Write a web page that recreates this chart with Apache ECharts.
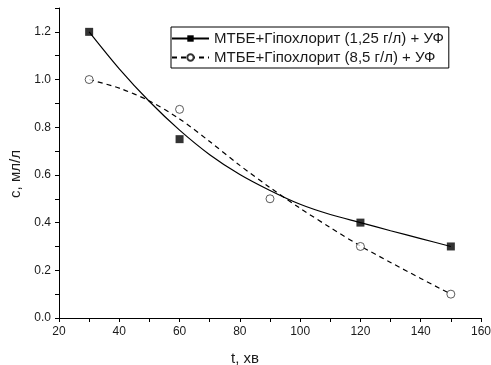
<!DOCTYPE html>
<html>
<head>
<meta charset="utf-8">
<script src="https://cdn.jsdelivr.net/npm/echarts@6/dist/echarts.min.js"></script>
<style>
  html, body { margin: 0; padding: 0; background: #fff; }
  #chart { width: 491px; height: 365px; }
</style>
</head>
<body>
<div id="chart"></div>
<script>
// measured points (the 1,25 g/l square at 90 min is hidden under the circle in the picture)
const times125 = [30, 60, 120, 150]
const conc125 = [1.2, 0.75, 0.4, 0.3]
const times85 = [30, 60, 90, 120, 150]
const conc85 = [1.0, 0.875, 0.5, 0.3, 0.1]

// fitted curves as drawn in the picture
const fitTimes = [30, 40, 50, 60, 70, 80, 90, 100, 110, 120, 130, 140, 150]
const fit125 = [1.2, 1.045, 0.908, 0.788, 0.685, 0.602, 0.535, 0.477, 0.434, 0.4, 0.366, 0.333, 0.3]
const fit85 = [1.0, 0.964, 0.91, 0.835, 0.74, 0.64, 0.547, 0.46, 0.379, 0.302, 0.233, 0.166, 0.1]

const xTickLabels = [20, 40, 60, 80, 100, 120, 140, 160]
const yTickLabels = ["0.0", "0.2", "0.4", "0.6", "0.8", "1.0", "1.2"]

const name125 = "МТБЕ+Гіпохлорит (1,25 г/л) + УФ"
const name85 = "МТБЕ+Гіпохлорит (8,5 г/л) + УФ"

const zip = (xs, ys) => xs.map((x, i) => [x, ys[i]])

const font = "Liberation Sans, Arial, sans-serif"
const ink = "#1a1a1a"

const chart = echarts.init(document.getElementById("chart"))

chart.setOption({
  animation: false,
  textStyle: { fontFamily: font, color: ink },
  grid: { left: 59, right: 10, top: 8, bottom: 47, outerBoundsMode: "none" },
  legend: {
    orient: "vertical",
    left: 171,
    top: 27,
    padding: [4, 5, 3, 0],
    itemWidth: 37,
    itemHeight: 8,
    itemGap: 4,
    borderColor: "#000",
    borderWidth: 1,
    borderRadius: 0,
    textStyle: { fontFamily: font, fontSize: 15, color: ink },
    data: [name125, name85],
  },
  xAxis: {
    type: "value",
    min: 20,
    max: 160,
    interval: 10,
    name: "t, хв",
    nameLocation: "middle",
    nameGap: 33,
    nameTextStyle: { fontSize: 15, color: ink, padding: [0, 50, 0, 0] },
    axisLine: { lineStyle: { color: "#000", width: 1 } },
    axisTick: { inside: false, length: 4, lineStyle: { color: "#000" } },
    axisLabel: {
      fontSize: 12,
      color: ink,
      margin: 8,
      formatter: (v) => (xTickLabels.includes(v) ? String(v) : ""),
    },
    splitLine: { show: false },
  },
  yAxis: {
    type: "value",
    min: 0,
    max: 1.3,
    interval: 0.1,
    name: "c, мл/л",
    nameLocation: "middle",
    nameGap: 34,
    nameTextStyle: { fontSize: 15, color: ink, padding: [0, 22, 0, 0] },
    axisLine: { show: true, lineStyle: { color: "#000", width: 1 } },
    axisTick: { show: true, inside: false, length: 4, lineStyle: { color: "#000" } },
    axisLabel: {
      fontSize: 12,
      color: ink,
      margin: 8,
      formatter: (v) => {
        const s = v.toFixed(1)
        return yTickLabels.includes(s) ? s : ""
      },
    },
    splitLine: { show: false },
  },
  series: [
    {
      name: name125,
      type: "line",
      data: zip(fitTimes, fit125),
      smooth: 0.3,
      showSymbol: false,
      symbol: "rect",
      symbolSize: 8,
      itemStyle: { color: "#000" },
      lineStyle: { color: "#000", width: 1.2 },
      z: 2,
    },
    {
      name: name85,
      type: "line",
      data: zip(fitTimes, fit85),
      smooth: 0.3,
      showSymbol: false,
      symbol: "circle",
      symbolSize: 8,
      itemStyle: { color: "#fff", borderColor: "#333", borderWidth: 1 },
      lineStyle: { color: "#000", width: 1.2, type: [5, 4] },
      z: 2,
    },
    {
      type: "scatter",
      data: zip(times125, conc125),
      symbol: "rect",
      symbolSize: 8,
      itemStyle: { color: "#000" },
      z: 3,
    },
    {
      type: "scatter",
      data: zip(times85, conc85),
      symbol: "circle",
      symbolSize: 8,
      itemStyle: { color: "#fff", borderColor: "#333", borderWidth: 1 },
      z: 3,
    },
  ],
})
</script>
</body>
</html>
